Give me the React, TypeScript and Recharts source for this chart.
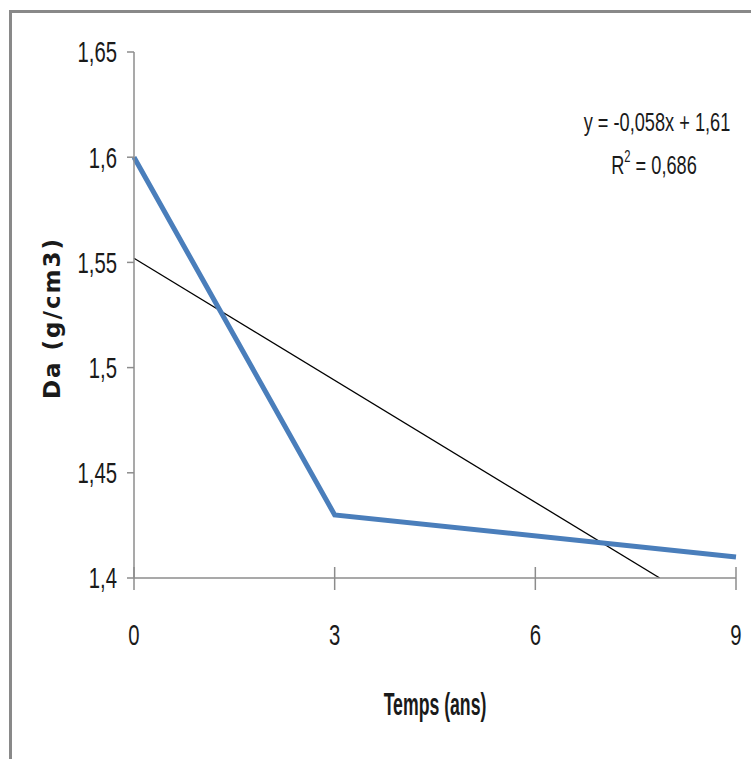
import React from 'react';
import { LineChart, Line, XAxis, YAxis } from 'recharts';

const timeYears = [0, 3, 9];
const bulkDensity = [1.6, 1.43, 1.41];
const trendX = [0, 7.86];
const trendY = [1.552, 1.4];
const xTicks = [0, 3, 6, 9];
const yTicks = [1.4, 1.45, 1.5, 1.55, 1.6, 1.65];
const equationText = 'y = -0,058x + 1,61';
const r2Value = '0,686';

const seriesData = timeYears.map((t, i) => ({ t, da: bulkDensity[i] }));
const trendData = trendX.map((t, i) => ({ t, trend: trendY[i] }));

const W = 751;
const H = 759;
const PLOT_LEFT = 134;
const PLOT_RIGHT = 736;
const PLOT_TOP = 52;
const PLOT_BOTTOM = 578;
const Y_AXIS_W = 60;
const X_AXIS_H = 40;
const SX = 0.7;
const FONT = '"Liberation Sans", Arial, sans-serif';
const TEXT = '#1a1a1a';
const AXIS = '#8c8c8c';

const fmt = (v: number) => String(v).replace('.', ',');

const YTick = (props: any) => {
  const { x, y, payload } = props;
  return (
    <text
      transform={`translate(${x},${y}) scale(${SX},1)`}
      textAnchor="end"
      dy="0.36em"
      fontFamily={FONT}
      fontSize={29}
      fill={TEXT}
    >
      {fmt(payload.value)}
    </text>
  );
};

const XTick = (props: any) => {
  const { x, payload } = props;
  return (
    <g>
      <line x1={x} x2={x} y1={PLOT_BOTTOM - 11} y2={PLOT_BOTTOM + 12} stroke={AXIS} strokeWidth={1.5} />
      <text
        transform={`translate(${x},${PLOT_BOTTOM + 57}) scale(${SX},1)`}
        textAnchor="middle"
        dy="0.36em"
        fontFamily={FONT}
        fontSize={29}
        fill={TEXT}
      >
        {fmt(payload.value)}
      </text>
    </g>
  );
};

export default function App() {
  return (
    <div style={{ position: 'absolute', left: 0, top: 0, width: W, height: H, background: '#fff' }}>
      <div
        style={{
          position: 'absolute',
          left: 9,
          top: 10,
          width: W + 20,
          height: H + 20,
          borderLeft: '3px solid #898989',
          borderTop: '3px solid #898989',
        }}
      />
      <div style={{ position: 'absolute', left: 0, top: 0 }}>
        <LineChart
          width={W}
          height={H}
          margin={{
            top: PLOT_TOP,
            right: W - PLOT_RIGHT,
            left: PLOT_LEFT - Y_AXIS_W,
            bottom: H - PLOT_BOTTOM - X_AXIS_H,
          }}
        >
          <XAxis
            dataKey="t"
            type="number"
            domain={[0, 9]}
            ticks={xTicks}
            height={X_AXIS_H}
            stroke={AXIS}
            strokeWidth={1.5}
            tickLine={false}
            tick={<XTick />}
            interval={0}
            allowDuplicatedCategory={false}
          />
          <YAxis
            type="number"
            domain={[1.4, 1.65]}
            ticks={yTicks}
            width={Y_AXIS_W}
            stroke={AXIS}
            strokeWidth={1.5}
            tickSize={7}
            tickMargin={10}
            tickLine={{ stroke: AXIS, strokeWidth: 1.5 }}
            tick={<YTick />}
            interval={0}
            allowDataOverflow
          />
          <Line
            data={trendData}
            dataKey="trend"
            stroke="#000000"
            strokeWidth={1.3}
            dot={false}
            activeDot={false}
            isAnimationActive={false}
          />
          <Line
            data={seriesData}
            dataKey="da"
            stroke="#4a7ebb"
            strokeWidth={5}
            dot={false}
            activeDot={false}
            isAnimationActive={false}
          />
        </LineChart>
      </div>
      <svg width={W} height={H} style={{ position: 'absolute', left: 0, top: 0, pointerEvents: 'none' }}>
        <text
          transform="translate(52,318) rotate(-90)"
          textAnchor="middle"
          dy="0.36em"
          fontFamily='"DejaVu Sans", Verdana, sans-serif'
          fontWeight="bold"
          fontSize={23}
          letterSpacing={2}
          fill={TEXT}
        >
          Da (g/cm3)
        </text>
        <text
          transform="translate(435,704) scale(0.57,1)"
          textAnchor="middle"
          dy="0.36em"
          fontFamily={FONT}
          fontWeight="bold"
          fontSize={31}
          fill={TEXT}
        >
          Temps (ans)
        </text>
        <text
          transform={`translate(657,122) scale(${SX},1)`}
          textAnchor="middle"
          dy="0.36em"
          fontFamily={FONT}
          fontSize={26}
          fill={TEXT}
        >
          {equationText}
        </text>
        <text
          transform={`translate(654,165) scale(${SX},1)`}
          textAnchor="middle"
          dy="0.36em"
          fontFamily={FONT}
          fontSize={26}
          fill={TEXT}
        >
          R
          <tspan fontSize={16} dy="-0.75em">2</tspan>
          <tspan dy="0.45em">{` = ${r2Value}`}</tspan>
        </text>
      </svg>
    </div>
  );
}
